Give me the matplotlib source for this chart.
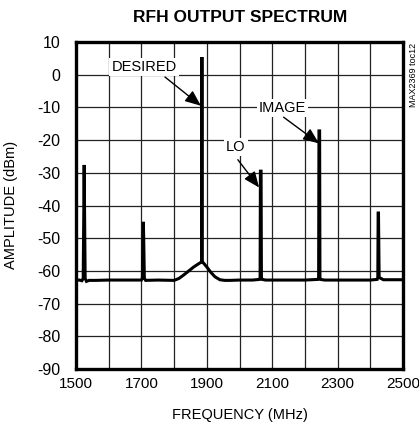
import matplotlib
matplotlib.use("Agg")
import matplotlib.pyplot as plt

plt.rcParams['font.family'] = ['Liberation Sans', 'DejaVu Sans']

# Spectrum trace (MHz, dBm)
freq = [1500, 1510, 1518, 1522, 1524, 1525, 1526, 1528, 1532, 1540, 1560, 1600, 1650, 1700,
        1703, 1705, 1706, 1707, 1709, 1713, 1750, 1800, 1815, 1830, 1845, 1860, 1872, 1880,
        1884, 1885, 1886, 1890, 1900, 1912, 1925, 1940, 1955, 1970, 2000, 2040, 2061,
        2063, 2064, 2066, 2067, 2069, 2080, 2150, 2200, 2240, 2242, 2243, 2245, 2246, 2248,
        2260, 2330, 2400, 2421, 2423, 2424, 2425, 2427, 2440, 2500]
amp = [-62.8, -62.8, -63.0, -62.3, -40.0, -27.6, -40.0, -62.3, -63.2, -62.9, -62.9, -62.8, -62.8, -62.8,
       -62.2, -50.0, -45.0, -50.0, -62.2, -62.9, -62.8, -62.9, -62.3, -61.2, -60.0, -58.8, -58.0, -57.5,
       -57.2, 5.4, -57.2, -57.6, -58.8, -60.4, -61.8, -62.7, -62.9, -62.9, -62.8, -62.8, -62.6,
       -62.0, -29.5, -29.5, -62.0, -62.6, -62.8, -62.8, -62.8, -62.6, -62.0, -17.2, -17.2, -62.0, -62.6,
       -62.8, -62.8, -62.8, -62.6, -62.0, -42.3, -42.3, -62.0, -62.7, -62.7]

x_ticks = [1500, 1700, 1900, 2100, 2300, 2500]
y_ticks = [10, 0, -10, -20, -30, -40, -50, -60, -70, -80, -90]

labels = ["DESIRED", "LO", "IMAGE"]
label_xy = [(1708, 2.3), (1989, -22.1), (2132, -10.3)]
arrow_tail = [(1772, -0.7), (1995, -26.0), (2135, -13.0)]
arrow_head = [(1882, -9.5), (2060, -34.5), (2243, -21.0)]

fig = plt.figure(figsize=(4.19, 4.29), dpi=100)
ax = fig.add_axes([76/419, 1-369/429, (403-76)/419, (369-42)/429])

ax.set_xlim(1500, 2500)
ax.set_ylim(-90, 10)
ax.set_xticks(range(1500, 2501, 100))
ax.set_xticklabels([str(v) if v in x_ticks else "" for v in range(1500, 2501, 100)])
ax.set_yticks(y_ticks)
ax.set_yticklabels([str(v) for v in y_ticks])
ax.tick_params(axis='x', length=0, labelsize=11, pad=6)
ax.tick_params(axis='y', length=0, labelsize=11.5, pad=11)
ax.grid(True, color='#222222', linewidth=0.9)
ax.set_axisbelow(True)
for s in ax.spines.values():
    s.set_linewidth(2.4)

ax.plot(freq, amp, color='black', linewidth=2.2, solid_joinstyle='miter', zorder=3)

for t, xy, tail, head in zip(labels, label_xy, arrow_tail, arrow_head):
    ax.text(xy[0], xy[1], t, ha='center', va='center', fontsize=10.5, zorder=4,
            bbox=dict(facecolor='white', edgecolor='none', pad=1.5))
    ax.annotate("", xy=head, xytext=tail, zorder=4,
                arrowprops=dict(arrowstyle='-|>,head_length=0.6,head_width=0.25', color='black', lw=1.0,
                                mutation_scale=16, shrinkA=0, shrinkB=0))

fig.text(240/419, 1-415/429, "FREQUENCY (MHz)", ha='center', va='center', fontsize=10.5)
fig.text(11/419, 1-205/429, "AMPLITUDE (dBm)", ha='center', va='center', fontsize=10.5,
         rotation=90)
fig.text(240/419, 1-17/429, "RFH OUTPUT SPECTRUM", ha='center', va='center',
         fontsize=12.5, fontweight='bold')
fig.text(413/419, 1-75/429, "MAX2369 toc12", rotation=90, ha='center', va='center',
         fontsize=6.5)

fig.savefig("out.png", dpi=100)
